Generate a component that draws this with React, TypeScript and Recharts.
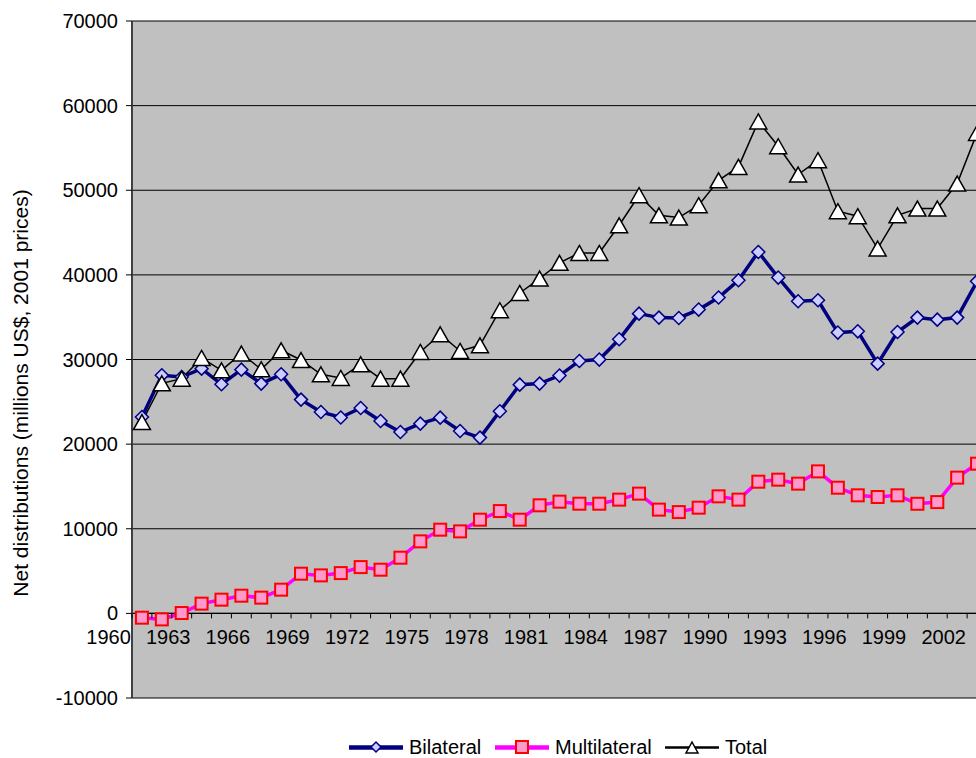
import React from 'react';
import {
    LineChart,
    Line,
    XAxis,
    YAxis,
    CartesianGrid,
    ReferenceLine,
} from 'recharts';

const years = [
    '1960', '1961', '1962', '1963', '1964', '1965', '1966', '1967', '1968', '1969',
    '1970', '1971', '1972', '1973', '1974', '1975', '1976', '1977', '1978', '1979',
    '1980', '1981', '1982', '1983', '1984', '1985', '1986', '1987', '1988', '1989',
    '1990', '1991', '1992', '1993', '1994', '1995', '1996', '1997', '1998', '1999',
    '2000', '2001', '2002',
];

const bilateral = [
    23200, 28130, 27930, 28920, 27070, 28800, 27150, 28250, 25260, 23800,
    23150, 24270, 22730, 21430, 22420, 23130, 21550, 20770, 23880, 27030,
    27150, 28100, 29830, 29990, 32390, 35420, 34950, 34910, 35900, 37320,
    39360, 42710, 39680, 36880, 37000, 33180, 33330, 29510, 33250, 34950,
    34710, 34950, 39240,
];

const multilateral = [
    -510, -710, 40, 1150, 1620, 2090, 1860, 2800, 4690, 4490,
    4760, 5470, 5160, 6580, 8510, 9890, 9690, 11070, 12090, 11070,
    12770, 13200, 12960, 12960, 13440, 14150, 12260, 11970, 12490, 13830,
    13440, 15560, 15800, 15330, 16780, 14850, 13950, 13750, 13950, 12950,
    13150, 16040, 17690,
];

const total = [
    22600, 27190, 27740, 30180, 28720, 30700, 28840, 31090, 29940, 28250,
    27820, 29430, 27740, 27740, 30890, 32980, 31010, 31680, 35820, 37860,
    39560, 41430, 42590, 42590, 45860, 49410, 47040, 46770, 48230, 51180,
    52760, 58130, 55200, 51860, 53550, 47520, 46930, 43110, 47040, 47840,
    47840, 50790, 56770,
];

const yTicks = [-10000, 0, 10000, 20000, 30000, 40000, 50000, 60000, 70000];

const data = years.map((year, i) => ({
    year,
    bilateral: bilateral[i],
    multilateral: multilateral[i],
    total: total[i],
}));

const FONT = '"Liberation Sans", Arial, sans-serif';
const CHART_W = 1000;
const CHART_H = 758;
const M_TOP = 21;
const M_BOTTOM = 30;
const X_AXIS_H = 30;
const M_LEFT = 32;
const Y_AXIS_W = 100;
const M_RIGHT = 13;
const PLOT_H = CHART_H - M_TOP - M_BOTTOM - X_AXIS_H;
const PLOT_W = CHART_W - M_LEFT - Y_AXIS_W - M_RIGHT;
const BAND = PLOT_W / years.length;
const Y_MIN = -10000;
const Y_MAX = 70000;
const ZERO_Y = M_TOP + (PLOT_H * Y_MAX) / (Y_MAX - Y_MIN);

// category axis sits on the zero line, labels every 3 years
const XTick = (props: any) => {
    const { x, payload, index } = props;
    const yr = Number(payload.value);
    const last = index === years.length - 1;
    return (
        <g>
            <line x1={x - BAND / 2} x2={x - BAND / 2} y1={ZERO_Y} y2={ZERO_Y + 5} stroke="#000" />
            {last && (
                <line x1={x + BAND / 2} x2={x + BAND / 2} y1={ZERO_Y} y2={ZERO_Y + 5} stroke="#000" />
            )}
            {(yr - 1960) % 3 === 0 && (
                <text
                    x={x - BAND * 1.68}
                    y={ZERO_Y + 31}
                    textAnchor="middle"
                    fontSize={20}
                    fontFamily={FONT}
                    fill="#000"
                >
                    {payload.value}
                </text>
            )}
        </g>
    );
};

const Diamond = (props: any) => {
    const { cx, cy, index } = props;
    if (cx == null || cy == null) return <g key={index} />;
    const r = 6.5;
    return (
        <path
            key={index}
            d={`M${cx},${cy - r}L${cx + r},${cy}L${cx},${cy + r}L${cx - r},${cy}Z`}
            fill="#CCCCFF"
            stroke="#000080"
            strokeWidth={1.5}
        />
    );
};

const Square = (props: any) => {
    const { cx, cy, index } = props;
    if (cx == null || cy == null) return <g key={index} />;
    return (
        <rect
            key={index}
            x={cx - 6}
            y={cy - 6}
            width={12}
            height={12}
            fill="#FF99CC"
            stroke="#FF0000"
            strokeWidth={2}
        />
    );
};

const Triangle = (props: any) => {
    const { cx, cy, index } = props;
    if (cx == null || cy == null) return <g key={index} />;
    return (
        <path
            key={index}
            d={`M${cx},${cy - 7.5}L${cx + 8.5},${cy + 7.5}L${cx - 8.5},${cy + 7.5}Z`}
            fill="#FFFFFF"
            stroke="#000"
            strokeWidth={1.5}
        />
    );
};

const YTitle = () => (
    <text
        x={20}
        y={393}
        transform="rotate(-90, 20, 393)"
        textAnchor="middle"
        dominantBaseline="central"
        fontSize={21}
        fontFamily={FONT}
        fill="#000"
    >
        Net distributions (millions US$, 2001 prices)
    </text>
);

const legendItems = [
    { label: 'Bilateral', left: 349, color: '#000080', width: 3.5, marker: 'diamond' },
    { label: 'Multilateral', left: 495, color: '#FF00FF', width: 3.5, marker: 'square' },
    { label: 'Total', left: 665, color: '#000', width: 1.5, marker: 'triangle' },
];

const LegendMarker = ({ kind }: { kind: string }) => {
    if (kind === 'diamond')
        return <path d="M27,5L32,10L27,15L22,10Z" fill="#CCCCFF" stroke="#000080" strokeWidth={1.5} />;
    if (kind === 'square')
        return <rect x={21} y={4} width={12} height={12} fill="#FF99CC" stroke="#FF0000" strokeWidth={2} />;
    return <path d="M27,5L33,16L21,16Z" fill="#fff" stroke="#000" strokeWidth={1.5} />;
};

export default function App() {
    return (
        <div style={{ position: 'relative', width: 976, height: 758, overflow: 'hidden', fontFamily: FONT }}>
            <style>{'body{margin:0}'}</style>
            <LineChart
                width={CHART_W}
                height={CHART_H}
                data={data}
                margin={{ top: M_TOP, right: M_RIGHT, left: M_LEFT, bottom: M_BOTTOM }}
            >
                <CartesianGrid vertical={false} stroke="#000" fill="#C0C0C0" fillOpacity={1} />
                <XAxis
                    dataKey="year"
                    interval={0}
                    height={X_AXIS_H}
                    padding={{ left: BAND / 2, right: BAND / 2 }}
                    axisLine={false}
                    tickLine={false}
                    tick={<XTick />}
                />
                <YAxis
                    width={Y_AXIS_W}
                    domain={[Y_MIN, Y_MAX]}
                    ticks={yTicks}
                    interval={0}
                    tickSize={6}
                    tickMargin={8}
                    axisLine={{ stroke: '#404040', strokeWidth: 2 }}
                    tickLine={{ stroke: '#000' }}
                    tick={{ fontSize: 20, fill: '#000', fontFamily: FONT }}
                    label={<YTitle />}
                />
                <ReferenceLine y={0} stroke="#000" strokeWidth={1.2} />
                <Line
                    dataKey="bilateral"
                    stroke="#000080"
                    strokeWidth={3.5}
                    dot={Diamond}
                    activeDot={false}
                    isAnimationActive={false}
                />
                <Line
                    dataKey="multilateral"
                    stroke="#FF00FF"
                    strokeWidth={3.5}
                    dot={Square}
                    activeDot={false}
                    isAnimationActive={false}
                />
                <Line
                    dataKey="total"
                    stroke="#000"
                    strokeWidth={1.5}
                    dot={Triangle}
                    activeDot={false}
                    isAnimationActive={false}
                />
            </LineChart>
            {legendItems.map((it) => (
                <div
                    key={it.label}
                    style={{ position: 'absolute', left: it.left, top: 737, display: 'flex', alignItems: 'center', height: 20 }}
                >
                    <svg width={54} height={20}>
                        <line x1={0} x2={54} y1={10.5} y2={10.5} stroke={it.color} strokeWidth={it.width + 1} />
                        <LegendMarker kind={it.marker} />
                    </svg>
                    <span style={{ marginLeft: 6, fontSize: 20, color: '#000', lineHeight: '20px' }}>{it.label}</span>
                </div>
            ))}
        </div>
    );
}
